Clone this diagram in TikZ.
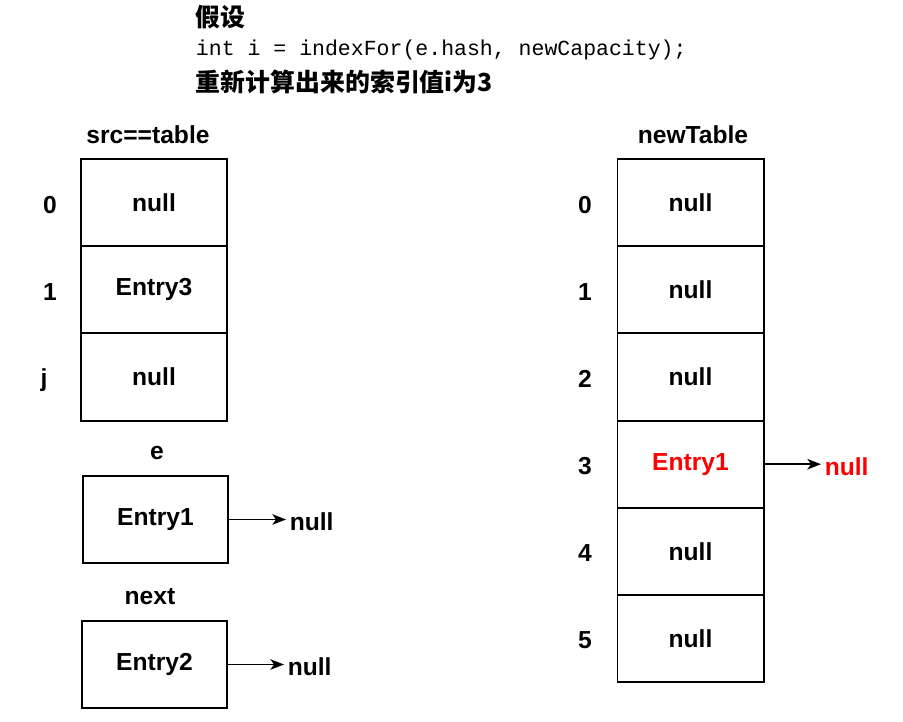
\documentclass[tikz,border=0pt]{standalone}
\usepackage{fontspec}
\setmainfont{Liberation Sans}
\setmonofont{Liberation Mono}
\newfontfamily\cjk{Noto Sans CJK SC}
\usetikzlibrary{arrows.meta, positioning}
\definecolor{cred}{HTML}{FF0000}
\tikzset{
  every picture/.style={line width=1.4pt},
  txt/.style={font=\fontsize{17.5}{20}\selectfont\bfseries},
  cell/.style={txt, draw, minimum width=3.65cm, minimum height=2.18cm, inner sep=0pt},
  entry/.style={txt, draw, minimum width=3.63cm, minimum height=2.18cm, inner sep=0pt},
  idx/.style={txt, inner sep=1pt},
  ptr/.style={-{Stealth[length=3.4mm, width=2.6mm, inset=0.9mm]}, line width=1.3pt},
  head/.style={anchor=west, inner sep=0pt, font=\cjk\bfseries\fontsize{17.7}{20}\selectfont},
  code/.style={anchor=west, inner sep=0pt, font=\ttfamily\fontsize{15.3}{18}\selectfont},
}
\begin{document}
\begin{tikzpicture}[x=0.025cm, y=-0.025cm]
  \useasboundingbox (0,0) rectangle (903,722);
  % header
  \node[head] (h1) at (195,17) {假设};
  \node[code] (h2) at (195,50) {int i = indexFor(e.hash, newCapacity);};
  \node[head] (h3) at (195,82) {重新计算出来的索引值i为3};
  % src==table
  \node[txt] (srcT) at (148,135) {src==table};
  \node[cell] (s0) at (154,202.6) {null};
  \node[cell] (s1) at (154,289.8) {Entry3};
  \node[cell] (sj) at (154,377) {null};
  \node[idx] (si0) at (50,205) {0};
  \node[idx] (si1) at (50,292) {1};
  \node[idx] (sij) at (44,380) {j};
  % e and next
  \node[txt] (eT) at (157,453) {e};
  \node[entry] (e1) at (155.5,519.5) {Entry1};
  \node[txt, anchor=west, inner sep=2pt] (nl1) at (286,522) {null};
  \draw[ptr] (e1.east) -- (e1.east -| nl1.west);
  \node[txt] (nextT) at (150,597) {next};
  \node[entry] (e2) at (154.5,664.5) {Entry2};
  \node[txt, anchor=west, inner sep=2pt] (nl2) at (284,667) {null};
  \draw[ptr] (e2.east) -- (e2.east -| nl2.west);
  % newTable
  \node[txt] (newT) at (693,135) {newTable};
  \foreach \i/\t in {0/null, 1/null, 2/null, 4/null, 5/null} {
    \node[cell] (n\i) at (690.5,202.6+87.2*\i) {\t};
    \node[idx] (ni\i) at (585,205+87*\i) {\i};
  }
  \node[cell, text=cred] (n3) at (690.5,464.2) {Entry1};
  \node[idx] (ni3) at (585,466) {3};
  \node[txt, text=cred, anchor=west, inner sep=2pt] (nl3) at (821,467) {null};
  \draw[ptr] (n3.east) -- (n3.east -| nl3.west);
\end{tikzpicture}
\end{document}
